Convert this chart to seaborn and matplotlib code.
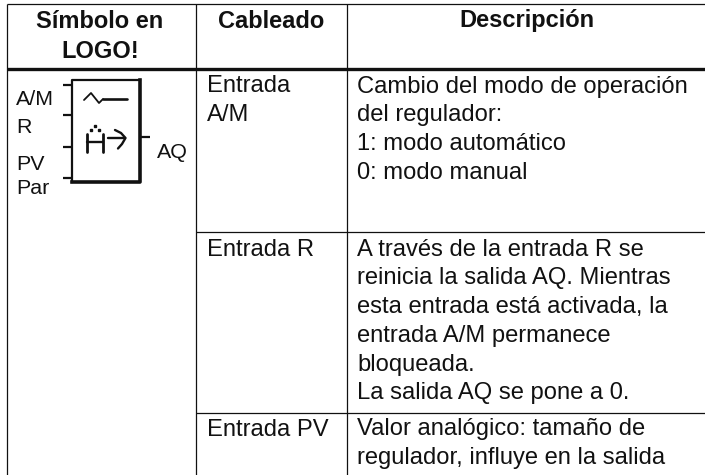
# LOGO! function block table, drawn on a full-figure axes in pixel units

import matplotlib.pyplot as plt
import seaborn as sns

headers = [["Símbolo en", "LOGO!"], ["Cableado"], ["Descripción"]]
wiring = [["Entrada", "A/M"], ["Entrada R"], ["Entrada PV"]]
descriptions = [
    ["Cambio del modo de operación", "del regulador:", "1: modo automático", "0: modo manual"],
    ["A través de la entrada R se", "reinicia la salida AQ. Mientras", "esta entrada está activada, la",
     "entrada A/M permanece", "bloqueada.", "La salida AQ se pone a 0."],
    ["Valor analógico: tamaño de", "regulador, influye en la salida"],
]
inputs = ["A/M", "R", "PV", "Par"]
output = "AQ"

sns.set_theme(style="white")
plt.rcParams["font.family"] = ["Liberation Sans", "DejaVu Sans"]

W, H = 705, 475
FS = 17.1
INK = "#111111"
LINE = 28.8

fig = plt.figure(figsize=(W / 100, H / 100), dpi=100)
ax = fig.add_axes([0, 0, 1, 1])
ax.set_xlim(0, W)
ax.set_ylim(H, 0)
ax.axis("off")

# grid
col_x = [6.5, 195.5, 346.5]
row_y = [232, 412.5]
ax.hlines(3.5, col_x[0], W, color=INK, lw=0.9)
ax.hlines(68.5, col_x[0], W, color=INK, lw=2.4)
ax.hlines(row_y, col_x[1], W, color=INK, lw=0.9)
ax.vlines(col_x, 3.5, H, color=INK, lw=0.9)

# header
header_cx = [100, 271, 527]
for cx, lines in zip(header_cx, headers):
    for i, s in enumerate(lines):
        ax.text(cx, 27.5 + i * 30, s, ha="center", va="baseline", fontsize=FS - 0.1, fontweight="bold", color=INK)

# wiring and description columns
row_base = [92.5, 255.5, 435.5]
for base, w_lines, d_lines in zip(row_base, wiring, descriptions):
    for i, s in enumerate(w_lines):
        ax.text(207, base + i * LINE, s, ha="left", va="baseline", fontsize=FS, color=INK)
    for i, s in enumerate(d_lines):
        ax.text(357, base + i * LINE, s, ha="left", va="baseline", fontsize=FS, color=INK)

# block symbol
ax.plot([72, 72, 139.5], [182, 80, 80], color=INK, lw=1.6, solid_capstyle="projecting")
ax.plot([139.5, 139.5, 72], [80, 182, 182], color=INK, lw=2.6, solid_capstyle="projecting")
for y in [85, 115, 146.5, 178]:
    ax.plot([63, 72], [y, y], color=INK, lw=1.6, solid_capstyle="butt")
ax.plot([140, 150], [137, 137], color=INK, lw=1.6, solid_capstyle="butt")

for s, x, y in zip(inputs, [16, 16, 16, 16], [105, 133, 170, 194]):
    ax.text(x, y, s, ha="left", va="baseline", fontsize=15.4, color=INK)
ax.text(157, 158, output, ha="left", va="baseline", fontsize=15.4, color=INK)

# icon: setpoint wave
ax.plot([84, 91, 95, 99, 103], [100, 93, 98, 103, 99], color=INK, lw=1.3)
ax.plot([103, 127], [99, 99], color=INK, lw=1.9)
# icon: A with dots and arrow
ax.plot([87, 87], [152, 134], color=INK, lw=2.0)
ax.plot([103, 103], [152, 134], color=INK, lw=2.0)
ax.plot([87, 103], [142, 142], color=INK, lw=1.7)
ax.plot([91, 95, 99], [130, 126, 130], ls="none", marker="s", ms=1.8, color=INK)
ax.plot([108, 125], [138, 138], color=INK, lw=1.7)
ax.plot([115, 121, 125.5, 122, 118], [130, 133, 138, 144, 148.5], color=INK, lw=1.7)

fig.savefig("out.png", dpi=100, facecolor="white")
